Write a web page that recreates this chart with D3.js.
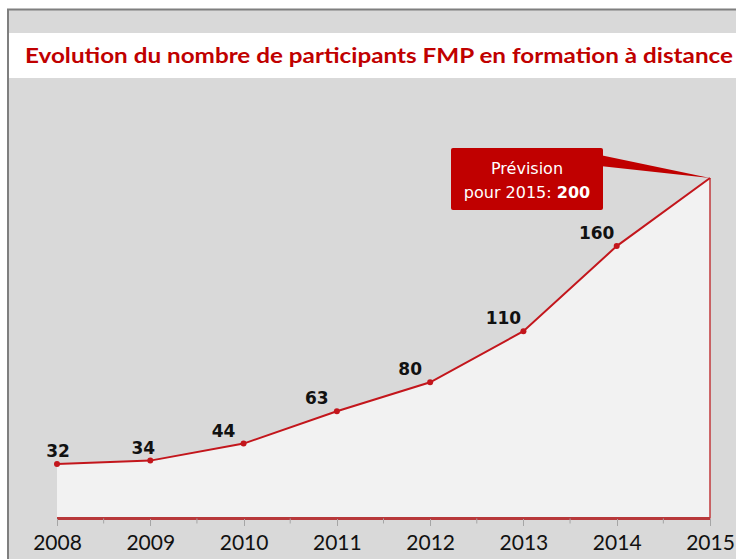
<!DOCTYPE html>
<meta charset="utf-8">
<head>
<style>
body { margin: 0; background: #fff; }
svg { display: block; font-family: 'Lato', 'Open Sans', sans-serif; }
.axis path, .axis line { shape-rendering: crispEdges; }
</style>
</head>
<body>
<svg width="736" height="559"></svg>
<script src="https://d3js.org/d3.v7.min.js"></script>
<script>
// data
const years = [2008, 2009, 2010, 2011, 2012, 2013, 2014, 2015];
const participants = [32, 34, 44, 63, 80, 110, 160, 200];
const title = 'Evolution du nombre de participants FMP en formation à distance';
const calloutLines = ['Prévision', 'pour 2015: '];
const calloutValue = '200';

const red = '#c00000';
const svg = d3.select('svg');

// frame and bands
svg.append('rect').attr('x', 8).attr('y', 9.5).attr('width', 740).attr('height', 560)
    .attr('fill', '#d9d9d9').attr('stroke', '#7f7f7f').attr('stroke-width', 2);
svg.append('rect').attr('x', 9).attr('y', 33).attr('width', 727).attr('height', 45)
    .attr('fill', '#fff');
svg.append('text')
    .attr('x', 25).attr('y', 63)
    .attr('fill', red)
    .attr('font-size', 20).attr('font-weight', 'bold')
    .attr('textLength', 708).attr('lengthAdjust', 'spacingAndGlyphs')
    .text(title);

let x = d3.scalePoint().domain(years).range([57, 710]);
let y = d3.scaleLinear().domain([0, 200]).range([518.5, 178]);

let data = years.map((yr, i) => ({ year: yr, value: participants[i] }));

// filled area under the line
let area = d3.area()
    .x(d => x(d.year))
    .y0(y(0))
    .y1(d => y(d.value));
svg.append('path').datum(data)
    .attr('d', area)
    .attr('fill', '#f2f2f2');

// right edge of the area
let last = data[data.length - 1];
svg.append('line')
    .attr('x1', x(last.year)).attr('x2', x(last.year))
    .attr('y1', y(last.value)).attr('y2', y(0))
    .attr('stroke', '#c0393b').attr('stroke-width', 1.5);

// x axis
let axis = svg.append('g')
    .attr('class', 'axis')
    .attr('transform', `translate(0, ${y(0)})`)
    .call(d3.axisBottom(x).tickSize(7).tickPadding(10));
axis.select('.domain').attr('stroke', '#b8393b').attr('stroke-width', 2.5)
    .attr('d', `M${x(2008)},0H${x(2015)}`);
axis.selectAll('.tick line').attr('stroke', '#a6a6a6').attr('stroke-width', 1);
axis.selectAll('.tick text')
    .attr('fill', '#111')
    .attr('font-size', 21)
    .attr('font-family', "'Lato', sans-serif");

// minor ticks between years
let step = x.step();
svg.append('g').selectAll('line')
    .data(years.slice(0, -1))
    .join('line')
    .attr('x1', d => x(d) + step / 2).attr('x2', d => x(d) + step / 2)
    .attr('y1', y(0)).attr('y2', y(0) + 5)
    .attr('stroke', '#a6a6a6');

// line
let line = d3.line().x(d => x(d.year)).y(d => y(d.value));
svg.append('path').datum(data)
    .attr('d', line)
    .attr('fill', 'none')
    .attr('stroke', '#c3161c')
    .attr('stroke-width', 2);

svg.append('g').selectAll('circle')
    .data(data.slice(0, -1))
    .join('circle')
    .attr('cx', d => x(d.year))
    .attr('cy', d => y(d.value))
    .attr('r', 3)
    .attr('fill', '#c3161c');

// value labels
svg.append('g').selectAll('text')
    .data(data.slice(0, -1))
    .join('text')
    .attr('x', (d, i) => x(d.year) + (i === 0 ? 1 : i === 1 ? -7 : -20))
    .attr('y', d => y(d.value) - 7)
    .attr('text-anchor', 'middle')
    .attr('font-family', "'DejaVu Sans', sans-serif")
    .attr('font-size', 17).attr('font-weight', 'bold')
    .attr('fill', '#111')
    .text(d => d.value);

// callout
let tip = [x(last.year), y(last.value)];
svg.append('polygon')
    .attr('points', [[600, 155], tip, [600, 166]].map(p => p.join(',')).join(' '))
    .attr('fill', red);
svg.append('rect')
    .attr('x', 451).attr('y', 148).attr('width', 152).attr('height', 62)
    .attr('rx', 2)
    .attr('fill', red);
svg.append('text')
    .attr('x', 527).attr('y', 174)
    .attr('text-anchor', 'middle')
    .attr('font-family', "'DejaVu Sans', sans-serif")
    .attr('fill', '#fff').attr('font-size', 16)
    .text(calloutLines[0]);
let t2 = svg.append('text')
    .attr('x', 527).attr('y', 198)
    .attr('text-anchor', 'middle')
    .attr('font-family', "'DejaVu Sans', sans-serif")
    .attr('fill', '#fff').attr('font-size', 16);
t2.append('tspan').text(calloutLines[1]);
t2.append('tspan').attr('font-weight', 'bold').text(calloutValue);
</script>
</body>
</html>
